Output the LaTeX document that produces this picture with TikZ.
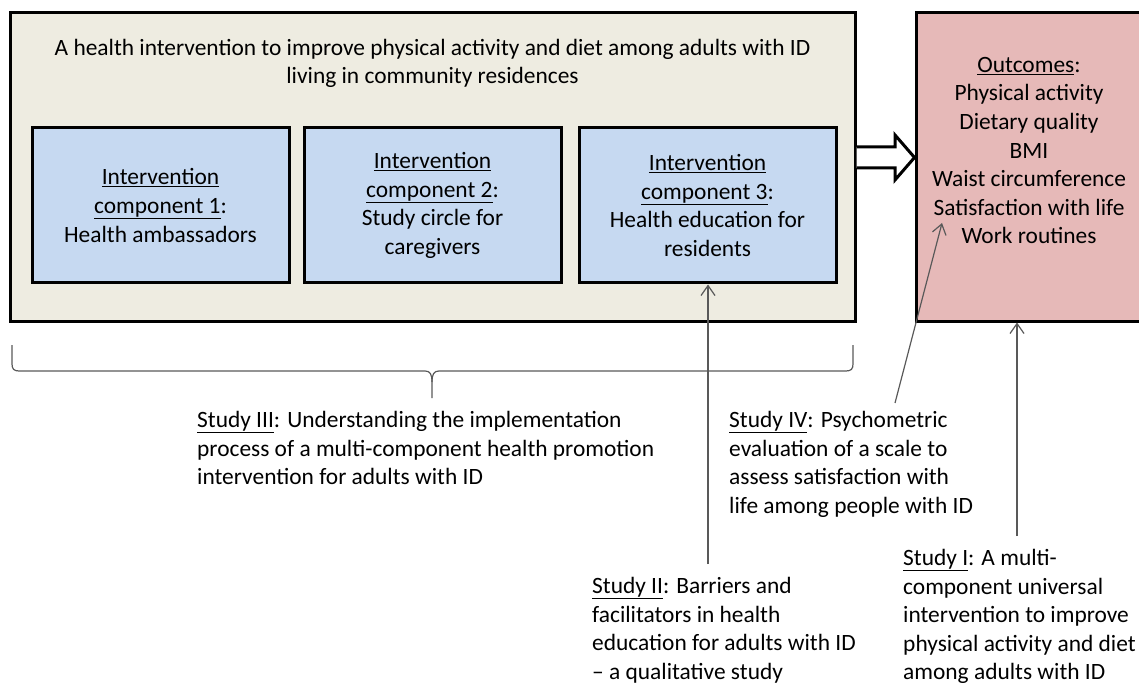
\documentclass[tikz,border=0pt]{standalone}
\usepackage{fontspec}
\setmainfont{Carlito}
\usetikzlibrary{arrows.meta}
\definecolor{boxbeige}{HTML}{EEECE1}
\definecolor{boxblue}{HTML}{C6D9F1}
\definecolor{boxrose}{HTML}{E6B9B8}
\tikzset{
    basetext/.style = {inner sep=0pt, font=\fontsize{23.4}{28.6}\selectfont},
    box_main/.style = {rectangle, draw=black, fill=boxbeige, line width=3pt, minimum width=845pt, minimum height=308pt},
    box_comp/.style = {basetext, rectangle, align=center, draw=black, fill=boxblue, line width=3pt, minimum width=257pt, minimum height=155pt},
    box_out/.style = {rectangle, draw=black, fill=boxrose, line width=3pt, minimum width=232pt, minimum height=308pt},
    study_text/.style = {basetext, align=left, anchor=north west},
    study_arrow/.style = {-{Straight Barb[length=10pt,width=14pt]}, draw=black!65, line width=1.2pt}
}

\begin{document}
\begin{tikzpicture}[x=1pt, y=-1pt]
    \useasboundingbox (0,0) rectangle (1139,684);
    \clip (0,0) rectangle (1139,684);
    \node [box_main] (main) at (432.5,167) {}; % INTERVENTION
    \node [basetext, align=center] (title) at (432.5,63.5) {A health intervention to improve physical activity and diet among adults with ID\\living in community residences};
    \node [box_comp] (c1) at (160.5,205.5) {\underline{Intervention}\\\underline{component 1}:\\Health ambassadors};
    \node [box_comp] (c2) at (432.5,205.5) {\underline{Intervention}\\\underline{component 2}:\\Study circle for\\caregivers};
    \node [box_comp] (c3) at (707.5,205.5) {\underline{Intervention}\\\underline{component 3}:\\Health education for\\residents};
    \node [box_out] (out) at (1032,167) {}; % OUTCOMES
    \node [basetext, align=center] (outtext) at (1029,150.5) {\underline{Outcomes}:\\Physical activity\\Dietary quality\\BMI\\Waist circumference\\Satisfaction with life\\Work routines};
    \draw [fill=white, line width=3pt] (main.east |- 0,147) -- (895,147) -- (895,135) -- (out.west |- 0,157.5) -- (895,180) -- (895,168) -- (main.east |- 0,168);
    % brace under the intervention
    \draw [draw=black!65, line width=1.2pt] (12,345) -- (12,364) .. controls (12,369) and (14,371) .. (19,371) -- (425,371) .. controls (430,371) and (432,374) .. (432,382) -- (432,398);
    \draw [draw=black!65, line width=1.2pt] (853,345) -- (853,364) .. controls (853,369) and (851,371) .. (846,371) -- (439,371) .. controls (434,371) and (432,374) .. (432,382);
    % studies
    \node [study_text] (s3) at (197,411) {\underline{Study III}: Understanding the implementation\\process of a multi-component health promotion\\intervention for adults with ID};
    \node [study_text] (s4) at (729,411) {\underline{Study IV}: Psychometric\\evaluation of a scale to\\assess satisfaction with\\life among people with ID};
    \node [study_text] (s2) at (592,577) {\underline{Study II}: Barriers and\\facilitators in health\\education for adults with ID\\-- a qualitative study};
    \node [study_text] (s1) at (903,549) {\underline{Study I}: A multi-\\component universal\\intervention to improve\\physical activity and diet\\among adults with ID};
    \coordinate (s2_tail) at (708,564);
    \coordinate (s4_tail) at (895,403);
    \coordinate (s4_head) at (942,223);
    \coordinate (s1_tail) at (1017,536);
    \draw [study_arrow] (s2_tail) -- (s2_tail |- c3.south);
    \draw [study_arrow] (s4_tail) -- (s4_head);
    \draw [study_arrow] (s1_tail) -- (s1_tail |- out.south);
\end{tikzpicture}
\end{document}
